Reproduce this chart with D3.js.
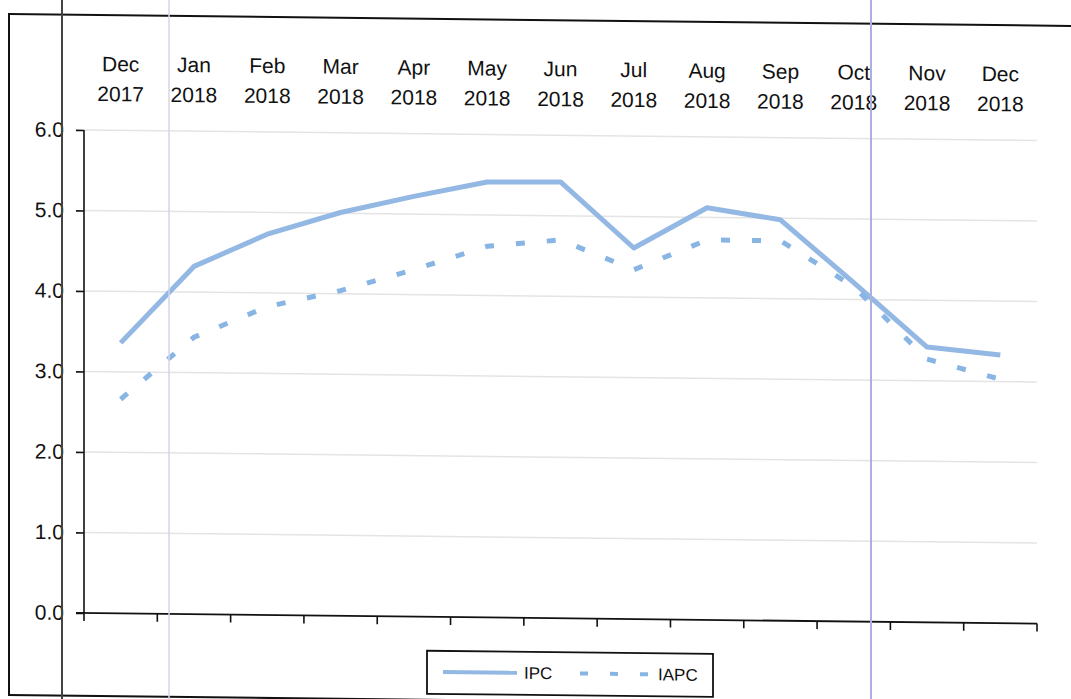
<!DOCTYPE html>
<html>
<head>
<meta charset="utf-8">
<script src="https://cdn.jsdelivr.net/npm/d3@7"></script>
<style>
  html, body { margin: 0; padding: 0; background: #fff; }
  svg { display: block; }
  text { font-family: "Liberation Sans", Arial, sans-serif; fill: #111; }
</style>
</head>
<body>
<script>
const months = ["Dec","Jan","Feb","Mar","Apr","May","Jun","Jul","Aug","Sep","Oct","Nov","Dec"];
const years  = ["2017","2018","2018","2018","2018","2018","2018","2018","2018","2018","2018","2018","2018"];
const categories = months.map((m, i) => m + " " + years[i]);
const ipc  = [3.36, 4.32, 4.73, 5.01, 5.22, 5.41, 5.42, 4.61, 5.12, 4.98, 4.21, 3.42, 3.33];
const iapc = [2.66, 3.44, 3.83, 4.04, 4.31, 4.61, 4.70, 4.34, 4.72, 4.72, 4.16, 3.27, 3.03];
const yTicks = [0, 1, 2, 3, 4, 5, 6];
const seriesNames = ["IPC", "IAPC"];

const W = 1071, H = 699;
const svg = d3.select("body").append("svg").attr("width", W).attr("height", H);

// whole scanned page is slightly sheared
const g = svg.append("g").attr("transform", "skewY(0.64)");

// outer frame
g.append("rect").attr("x", 9).attr("y", 14).attr("width", 1090).attr("height", 681)
  .attr("fill", "none").attr("stroke", "#111").attr("stroke-width", 2);

const x0 = 84, x1 = 1037;
const xb = d3.scaleBand().domain(categories).range([x0, x1]);
const xc = c => xb(c) + xb.bandwidth() / 2;
const y = d3.scaleLinear().domain([0, 6]).range([612, 129]);

// gridlines
g.append("g").selectAll("line").data(yTicks.filter(t => t > 0)).join("line")
  .attr("x1", x0).attr("x2", x1)
  .attr("y1", d => y(d)).attr("y2", d => y(d))
  .attr("stroke", "#e4e4e4").attr("stroke-width", 1.5);

// y axis
const yAxis = d3.axisLeft(y).tickValues(yTicks).tickFormat(d3.format(".1f")).tickSize(8).tickPadding(12);
const ya = g.append("g").attr("transform", `translate(${x0},0)`).call(yAxis);
ya.select(".domain").attr("stroke", "#111").attr("stroke-width", 1.6).attr("d", `M0,${y(0)}V${y(6)}`);
ya.selectAll(".tick line").attr("stroke", "#111").attr("stroke-width", 1.6);
ya.selectAll(".tick text").attr("font-size", 21).attr("font-family", "Liberation Sans, Arial, sans-serif").attr("fill", "#111");

// x axis (at bottom, ticks between categories)
const xa = g.append("g");
xa.append("line").attr("x1", x0 - 8).attr("x2", x1).attr("y1", y(0)).attr("y2", y(0))
  .attr("stroke", "#111").attr("stroke-width", 1.8);
const bounds = categories.map(c => xb(c)).concat([x1]);
xa.selectAll("line.tk").data(bounds).join("line").attr("class", "tk")
  .attr("x1", d => d).attr("x2", d => d).attr("y1", y(0)).attr("y2", y(0) + 8)
  .attr("stroke", "#111").attr("stroke-width", 1.6);

// category labels at top
const lab = g.append("g");
lab.selectAll("text.m").data(categories).join("text").attr("class", "m")
  .attr("x", c => xc(c)).attr("y", 70).attr("text-anchor", "middle").attr("font-size", 21)
  .text((c, i) => months[i]);
lab.selectAll("text.yr").data(categories).join("text").attr("class", "yr")
  .attr("x", c => xc(c)).attr("y", 100).attr("text-anchor", "middle").attr("font-size", 21)
  .text((c, i) => years[i]);

// lines
const line = d3.line().x((d, i) => xc(categories[i])).y(d => y(d));
g.append("path").datum(ipc).attr("d", line).attr("fill", "none")
  .attr("stroke", "#93b8e3").attr("stroke-width", 5).attr("stroke-linejoin", "round");
g.append("path").datum(iapc).attr("d", line).attr("fill", "none")
  .attr("stroke", "#88b5e4").attr("stroke-width", 5).attr("stroke-dasharray", "9,22");

// legend
const leg = g.append("g");
leg.append("rect").attr("x", 427).attr("y", 646).attr("width", 286).attr("height", 43)
  .attr("fill", "#fff").attr("stroke", "#111").attr("stroke-width", 1.8);
leg.append("line").attr("x1", 443).attr("x2", 517).attr("y1", 667).attr("y2", 667)
  .attr("stroke", "#93b8e3").attr("stroke-width", 4);
leg.append("text").attr("x", 524).attr("y", 673).attr("font-size", 17).text(seriesNames[0]);
leg.append("line").attr("x1", 580).attr("x2", 655).attr("y1", 667).attr("y2", 667)
  .attr("stroke", "#88b5e4").attr("stroke-width", 4).attr("stroke-dasharray", "8,22");
leg.append("text").attr("x", 658).attr("y", 673).attr("font-size", 17).text(seriesNames[1]);

// scan artefacts (vertical lines from the scanned page)
svg.append("line").attr("x1", 169).attr("x2", 169).attr("y1", 0).attr("y2", H)
  .attr("stroke", "#d4d4ea").attr("stroke-width", 1.5);
svg.append("line").attr("x1", 871).attr("x2", 871).attr("y1", 0).attr("y2", H)
  .attr("stroke", "#aeaee0").attr("stroke-width", 2);
svg.append("line").attr("x1", 62).attr("x2", 62).attr("y1", 0).attr("y2", H)
  .attr("stroke", "#444").attr("stroke-width", 2);
</script>
</body>
</html>
